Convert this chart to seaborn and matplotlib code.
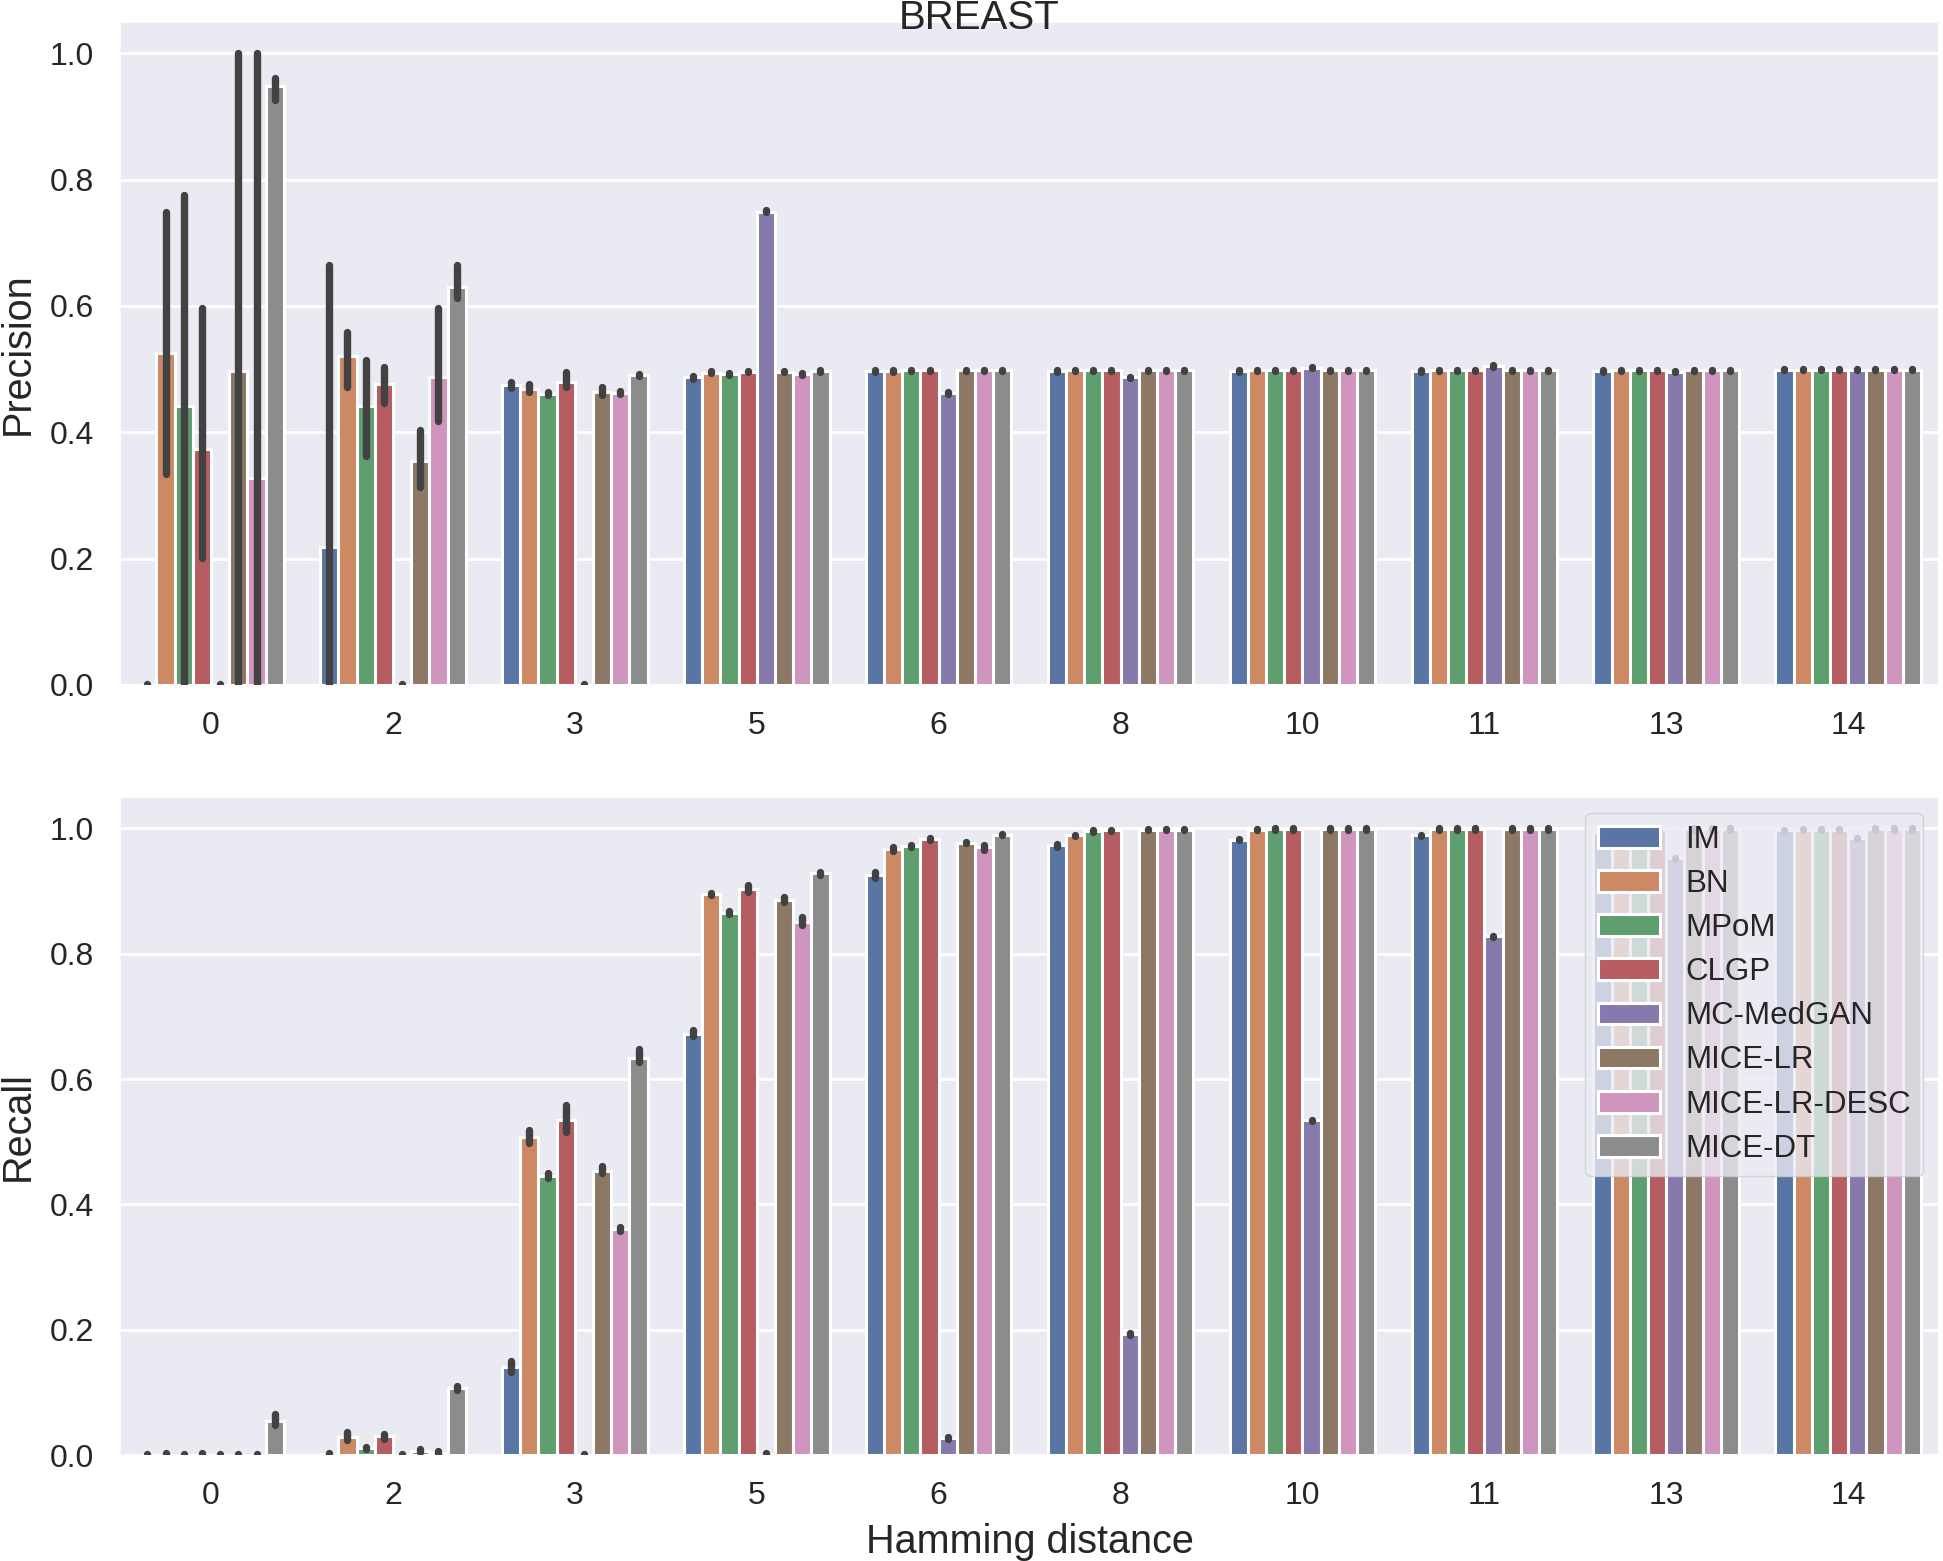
import numpy as np
import pandas as pd
import seaborn as sns
import matplotlib.pyplot as plt

distances = ['0', '2', '3', '5', '6', '8', '10', '11', '13', '14']
methods = ['IM', 'BN', 'MPoM', 'CLGP', 'MC-MedGAN', 'MICE-LR', 'MICE-LR-DESC', 'MICE-DT']

# rows = hamming distance, cols = method
precision = np.array([
    [0.000, 0.525, 0.441, 0.374, 0.000, 0.497, 0.328, 0.948],
    [0.219, 0.520, 0.441, 0.477, 0.000, 0.355, 0.488, 0.630],
    [0.474, 0.468, 0.461, 0.480, 0.000, 0.464, 0.462, 0.490],
    [0.487, 0.494, 0.492, 0.496, 0.749, 0.496, 0.492, 0.497],
    [0.497, 0.497, 0.498, 0.498, 0.462, 0.498, 0.498, 0.498],
    [0.497, 0.498, 0.498, 0.498, 0.487, 0.498, 0.498, 0.498],
    [0.497, 0.498, 0.498, 0.498, 0.502, 0.498, 0.498, 0.498],
    [0.497, 0.498, 0.498, 0.498, 0.505, 0.498, 0.498, 0.498],
    [0.497, 0.498, 0.498, 0.498, 0.496, 0.498, 0.498, 0.498],
    [0.499, 0.499, 0.499, 0.499, 0.499, 0.499, 0.499, 0.499],
])
precision_lo = np.array([
    [0.000, 0.334, 0.000, 0.201, 0.000, 0.000, 0.000, 0.926],
    [0.000, 0.472, 0.363, 0.447, 0.000, 0.314, 0.418, 0.612],
    [0.470, 0.463, 0.459, 0.471, 0.000, 0.459, 0.461, 0.489],
    [0.485, 0.493, 0.491, 0.495, 0.748, 0.495, 0.490, 0.496],
    [0.496, 0.496, 0.497, 0.497, 0.460, 0.497, 0.497, 0.497],
    [0.496, 0.497, 0.497, 0.497, 0.486, 0.497, 0.497, 0.497],
    [0.496, 0.497, 0.497, 0.497, 0.501, 0.497, 0.497, 0.497],
    [0.496, 0.497, 0.497, 0.497, 0.504, 0.497, 0.497, 0.497],
    [0.496, 0.497, 0.497, 0.497, 0.495, 0.497, 0.497, 0.497],
    [0.498, 0.498, 0.498, 0.498, 0.498, 0.498, 0.498, 0.498],
])
precision_hi = np.array([
    [0.002, 0.748, 0.775, 0.597, 0.002, 1.000, 1.000, 0.960],
    [0.665, 0.559, 0.514, 0.504, 0.002, 0.404, 0.597, 0.665],
    [0.479, 0.477, 0.463, 0.495, 0.002, 0.471, 0.466, 0.492],
    [0.489, 0.497, 0.494, 0.497, 0.751, 0.497, 0.494, 0.498],
    [0.498, 0.498, 0.499, 0.499, 0.464, 0.499, 0.499, 0.499],
    [0.498, 0.499, 0.499, 0.499, 0.488, 0.499, 0.499, 0.499],
    [0.498, 0.499, 0.499, 0.499, 0.503, 0.499, 0.499, 0.499],
    [0.498, 0.499, 0.499, 0.499, 0.506, 0.499, 0.499, 0.499],
    [0.498, 0.499, 0.499, 0.499, 0.497, 0.499, 0.499, 0.499],
    [0.500, 0.500, 0.500, 0.500, 0.500, 0.500, 0.500, 0.500],
])

recall = np.array([
    [0.000, 0.000, 0.000, 0.000, 0.000, 0.000, 0.000, 0.054],
    [0.002, 0.029, 0.011, 0.030, 0.000, 0.007, 0.004, 0.107],
    [0.140, 0.507, 0.445, 0.535, 0.000, 0.454, 0.360, 0.634],
    [0.672, 0.895, 0.865, 0.904, 0.002, 0.886, 0.851, 0.928],
    [0.926, 0.967, 0.972, 0.983, 0.027, 0.977, 0.970, 0.990],
    [0.973, 0.989, 0.996, 0.997, 0.193, 0.998, 0.998, 0.998],
    [0.982, 0.998, 0.999, 0.999, 0.534, 0.999, 0.999, 0.999],
    [0.989, 0.999, 0.999, 0.999, 0.828, 0.999, 0.999, 0.999],
    [0.995, 0.999, 0.999, 0.999, 0.952, 0.999, 0.999, 0.999],
    [0.997, 0.998, 0.998, 0.998, 0.984, 0.999, 0.999, 0.999],
])
recall_lo = np.array([
    [0.000, 0.000, 0.000, 0.000, 0.000, 0.000, 0.000, 0.048],
    [0.001, 0.024, 0.009, 0.026, 0.000, 0.005, 0.001, 0.104],
    [0.133, 0.498, 0.442, 0.516, 0.000, 0.450, 0.357, 0.627],
    [0.668, 0.893, 0.863, 0.899, 0.001, 0.883, 0.846, 0.926],
    [0.921, 0.964, 0.971, 0.982, 0.025, 0.976, 0.966, 0.989],
    [0.971, 0.988, 0.995, 0.996, 0.192, 0.997, 0.997, 0.997],
    [0.981, 0.997, 0.998, 0.998, 0.533, 0.998, 0.998, 0.998],
    [0.988, 0.998, 0.998, 0.998, 0.827, 0.998, 0.998, 0.998],
    [0.994, 0.998, 0.998, 0.998, 0.951, 0.998, 0.998, 0.998],
    [0.996, 0.997, 0.997, 0.997, 0.983, 0.998, 0.998, 0.998],
])
recall_hi = np.array([
    [0.002, 0.003, 0.002, 0.003, 0.002, 0.002, 0.002, 0.066],
    [0.003, 0.037, 0.013, 0.034, 0.002, 0.009, 0.007, 0.110],
    [0.150, 0.518, 0.450, 0.558, 0.002, 0.462, 0.364, 0.648],
    [0.678, 0.897, 0.868, 0.909, 0.003, 0.891, 0.858, 0.931],
    [0.930, 0.970, 0.974, 0.985, 0.029, 0.979, 0.974, 0.991],
    [0.975, 0.990, 0.997, 0.998, 0.194, 0.999, 0.999, 0.999],
    [0.983, 0.999, 1.000, 1.000, 0.535, 1.000, 1.000, 1.000],
    [0.990, 1.000, 1.000, 1.000, 0.829, 1.000, 1.000, 1.000],
    [0.996, 1.000, 1.000, 1.000, 0.953, 1.000, 1.000, 1.000],
    [0.998, 0.999, 0.999, 0.999, 0.985, 1.000, 1.000, 1.000],
])


def to_long(vals, name):
    rows = []
    for i, d in enumerate(distances):
        for j, m in enumerate(methods):
            rows.append({'dist': d, 'method': m, name: vals[i, j]})
    return pd.DataFrame(rows)


sns.set_theme(style='darkgrid', rc={'grid.linewidth': 2.0})
plt.rcParams['font.family'] = ['Liberation Sans', 'DejaVu Sans']

fig = plt.figure(figsize=(19.43, 15.61), dpi=100)
ax1 = fig.add_axes([0.0618, 0.5612, 0.9362, 0.4250])
ax2 = fig.add_axes([0.0618, 0.0679, 0.9362, 0.4215])


def draw(ax, vals, lo, hi, name):
    df = to_long(vals, name)
    sns.barplot(data=df, x='dist', y=name, hue='method', order=distances,
                hue_order=methods, palette='deep', errorbar=None, ax=ax,
                linewidth=2.2, edgecolor='white', saturation=0.75)
    for j, cont in enumerate(ax.containers):
        for i, bar in enumerate(cont):
            x = bar.get_x() + bar.get_width() / 2
            ax.plot([x, x], [lo[i, j], hi[i, j]], color='.26', lw=5.3,
                    solid_capstyle='round', zorder=3)
    ax.set_ylim(0, 1.05)
    ax.set_xlim(-0.5, len(distances) - 0.5)
    ax.set_yticks([0, 0.2, 0.4, 0.6, 0.8, 1.0])
    ax.set_yticklabels(['0.0', '0.2', '0.4', '0.6', '0.8', '1.0'])
    ax.tick_params(labelsize=23, pad=19, length=0)
    ax.set_ylabel(name, fontsize=28.5)
    ax.yaxis.set_label_coords(-0.046, 0.5)


draw(ax1, precision, precision_lo, precision_hi, 'Precision')
ax1.set_xlabel('')
ax1.get_legend().remove()

draw(ax2, recall, recall_lo, recall_hi, 'Recall')
ax2.set_xlabel('Hamming distance', fontsize=28.5)
ax2.xaxis.set_label_coords(0.5, -0.104)
ax2.legend(loc='upper right', fontsize=22.5, title=None, framealpha=0.8,
           labelspacing=0.45)

fig.text(0.504, 1 - 29 / 1561, 'BREAST', ha='center', va='baseline',
         fontsize=29, color='.15')

fig.savefig('out.png', dpi=100)
